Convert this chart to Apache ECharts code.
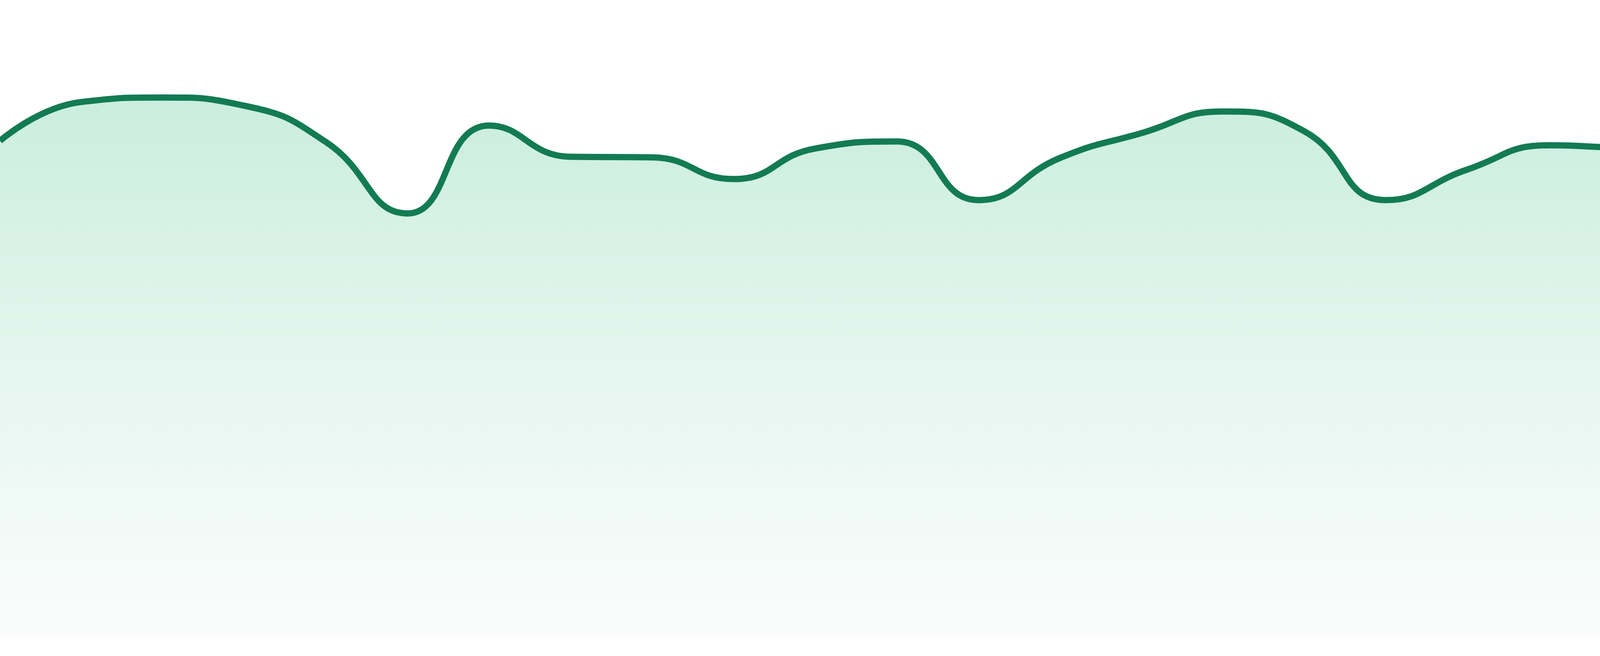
<!DOCTYPE html>
<html>
<head>
<meta charset="utf-8">
<title>area</title>
<script src="https://cdn.jsdelivr.net/npm/echarts@6/dist/echarts.min.js"></script>
<style>
  html, body { margin: 0; padding: 0; background: #fff; }
  #chart { width: 4800px; height: 1680px; }
</style>
</head>
<body>
<div id="chart"></div>
<script>
// 24 evenly spaced samples, no axis text in the picture
const categories = ['01','02','03','04','05','06','07','08','09','10','11','12',
  '13','14','15','16','17','18','19','20','21','22','23','24']
const values = [77.9, 84.0, 84.7, 83.4, 77.7, 66.5, 80.3, 75.4, 75.3, 71.9, 76.7, 77.8,
  68.6, 75.2, 79.1, 82.5, 79.4, 68.6, 73.4, 77.2, 76.8, 77.8, 82.8, 87.7]
const yRange = [0, 100]

const chart = echarts.init(document.getElementById('chart'))

const option = {
  animation: false,
  grid: {
    left: 0,
    right: 0,
    top: 0,
    bottom: 48,
    containLabel: false
  },
  xAxis: {
    type: 'category',
    boundaryGap: false,
    data: categories,
    show: false
  },
  yAxis: {
    type: 'value',
    min: yRange[0],
    max: yRange[1],
    show: false
  },
  series: [{
    type: 'line',
    data: values,
    smooth: true,
    symbol: 'none',
    lineStyle: {
      color: '#137b52',
      width: 16
    },
    areaStyle: {
      color: new echarts.graphic.LinearGradient(0, 0, 0, 1, [
        { offset: 0, color: '#b0e4cf' },
        { offset: 0.5, color: '#d8f1e7' },
        { offset: 1, color: '#f8fbfa' }
      ])
    }
  }]
}

chart.setOption(option)
</script>
</body>
</html>
